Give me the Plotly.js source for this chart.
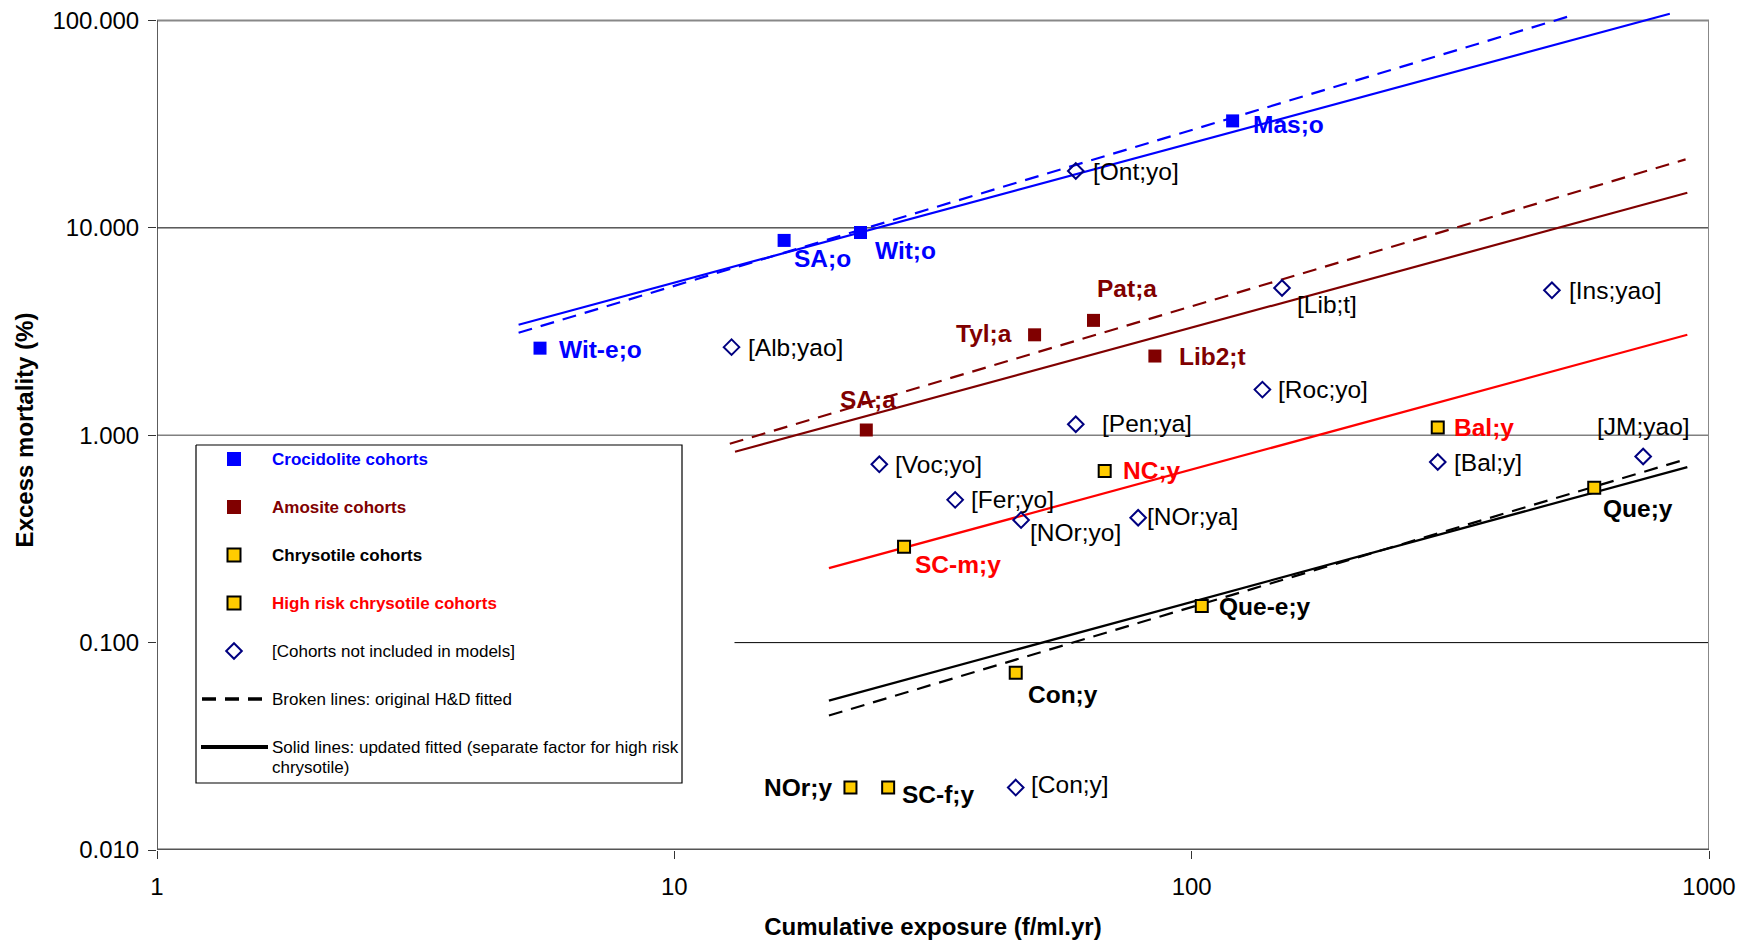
<!DOCTYPE html>
<html><head><meta charset="utf-8">
<script src="https://cdn.plot.ly/plotly-3.0.1.min.js"></script>
<style>html,body{margin:0;padding:0;background:#fff}#chart{width:1748px;height:944px}</style>
</head><body><div id="chart"></div>
<script>
// ---------------- DATA ----------------
const crocNames = ['Wit-e;o', 'SA;o', 'Wit;o', 'Mas;o'];
const crocX = [5.5, 16.3, 22.9, 120];
const crocY = [2.63, 8.7, 9.5, 32.8];

const amoNames = ['SA;a', 'Tyl;a', 'Pat;a', 'Lib2;t'];
const amoX = [23.5, 49.7, 64.6, 84.9];
const amoY = [1.06, 3.05, 3.58, 2.41];

const chrNames = ['Que-e;y', 'Con;y', 'Que;y', 'NOr;y', 'SC-f;y'];
const chrX = [104.6, 45.7, 600, 21.9, 25.9];
const chrY = [0.150, 0.0716, 0.558, 0.020, 0.020];

const hrNames = ['SC-m;y', 'NC;y', 'Bal;y'];
const hrX = [27.8, 67.9, 299];
const hrY = [0.29, 0.673, 1.09];

const exclNames = ['[Ont;yo]', '[Alb;yao]', '[Lib;t]', '[Ins;yao]', '[Roc;yo]', '[Pen;ya]', '[JM;yao]', '[Bal;y]', '[Voc;yo]', '[Fer;yo]', '[NOr;yo]', '[NOr;ya]', '[Con;y]'];
const exclX = [59.7, 12.9, 149.5, 497, 137, 59.7, 746, 299, 24.9, 34.9, 46.8, 78.8, 45.7];
const exclY = [18.8, 2.66, 5.13, 5.0, 1.66, 1.13, 0.79, 0.743, 0.724, 0.488, 0.39, 0.40, 0.020];

// fitted lines (end points of straight lines on log-log scale)
const fitCrocX = [5, 840];     const fitCrocY = [3.41, 107.7];     // updated
const fitCrocHDX = [5, 551];   const fitCrocHDY = [3.12, 106.9];   // original H&D
const fitAmoX = [13.1, 908];   const fitAmoY = [0.832, 14.77];
const fitAmoHDX = [12.8, 901]; const fitAmoHDY = [0.910, 21.4];
const fitHRX = [19.9, 908];    const fitHRY = [0.2286, 3.05];
const fitChrX = [19.9, 908];   const fitChrY = [0.0525, 0.702];
const fitChrHDX = [19.9, 902]; const fitChrHDY = [0.0445, 0.766];

const xTickVals = [1, 10, 100, 1000];
const xTickText = ['1', '10', '100', '1000'];
const yTickVals = [0.01, 0.1, 1, 10, 100];
const yTickText = ['0.010', '0.100', '1.000', '10.000', '100.000'];

const legendItems = [
  'Crocidolite cohorts', 'Amosite cohorts', 'Chrysotile cohorts', 'High risk chrysotile cohorts',
  '[Cohorts not included in models]', 'Broken lines: original H&D fitted',
  'Solid lines: updated fitted (separate factor for high risk', 'chrysotile)'
];

// ---------------- STYLE ----------------
const FONT = 'Liberation Sans, Arial, Helvetica, sans-serif';
const BLUE = '#0000FF', DRED = '#800000', RED = '#FF0000', YEL = '#FFCC00', NAVY = '#000080';
const DASH = '14px,9px';
const LABEL_SIZE = 24.5;

// label offsets (pixels): [dx, dy(down), anchor]
const labelOffsets = {
  'Wit-e;o': [17, 1, 'left'], 'SA;o': [8, 18, 'left'], 'Wit;o': [13, 18, 'left'], 'Mas;o': [18, 4, 'left'],
  'SA;a': [2, -31, 'center'], 'Tyl;a': [-21, -1, 'right'], 'Pat;a': [2, -32, 'left'], 'Lib2;t': [22, 0, 'left'],
  'Que-e;y': [15, 0, 'left'], 'Con;y': [10, 22, 'left'], 'Que;y': [7, 21, 'left'], 'NOr;y': [-16, 0, 'right'],
  'SC-f;y': [12, 7, 'left'], 'SC-m;y': [9, 18, 'left'], 'NC;y': [16, 0, 'left'], 'Bal;y': [14, 0, 'left'],
  '[Ont;yo]': [15, 0, 'left'], '[Alb;yao]': [14, 0, 'left'], '[Lib;t]': [13, 17, 'left'], '[Ins;yao]': [15, 0, 'left'],
  '[Roc;yo]': [14, 0, 'left'], '[Pen;ya]': [24, -1, 'left'], '[JM;yao]': [0, -30, 'center'], '[Bal;y]': [14, 0, 'left'],
  '[Voc;yo]': [14, 0, 'left'], '[Fer;yo]': [14, 0, 'left'], '[NOr;yo]': [7, 12, 'left'], '[NOr;ya]': [7, -1, 'left'],
  '[Con;y]': [13, -3, 'left']
};

const traces = [];
function fitLine(x, y, color, dashed) {
  return {type: 'scatter', mode: 'lines', x: x, y: y, xaxis: 'x', yaxis: 'y',
    line: {color: color, width: 2.2, dash: dashed ? DASH : 'solid'}, hoverinfo: 'skip', showlegend: false};
}
traces.push(fitLine(fitCrocX, fitCrocY, BLUE, false));
traces.push(fitLine(fitCrocHDX, fitCrocHDY, BLUE, true));
traces.push(fitLine(fitAmoX, fitAmoY, DRED, false));
traces.push(fitLine(fitAmoHDX, fitAmoHDY, DRED, true));
traces.push(fitLine(fitHRX, fitHRY, RED, false));
traces.push(fitLine(fitChrX, fitChrY, '#000000', false));
traces.push(fitLine(fitChrHDX, fitChrHDY, '#000000', true));

function pts(x, y, names, symbol, fill, lc, lw, size) {
  return {type: 'scatter', mode: 'markers', x: x, y: y, text: names, xaxis: 'x', yaxis: 'y',
    marker: {symbol: symbol, color: fill, size: size, opacity: 1, line: {color: lc, width: lw}},
    hoverinfo: 'text', showlegend: false};
}
traces.push(pts(exclX, exclY, exclNames, 'diamond-open', NAVY, NAVY, 2, 12));
traces.push(pts(crocX, crocY, crocNames, 'square', BLUE, BLUE, 0, 13));
traces.push(pts(amoX, amoY, amoNames, 'square', DRED, DRED, 0, 13));
traces.push(pts(chrX, chrY, chrNames, 'square', YEL, '#000000', 2, 12));
traces.push(pts(hrX, hrY, hrNames, 'square', YEL, '#000000', 2, 12));

// ---------- legend (drawn on pixel overlay axes) ----------
const LB = {l: 196, r: 682, t: 445, b: 783, mx: 234, tx: 270};
const legY = [459, 507, 555, 603, 651, 699, 747, 767];
traces.push({type: 'scatter', mode: 'lines', xaxis: 'x2', yaxis: 'y2',
  x: [LB.l, LB.r, LB.r, LB.l, LB.l], y: [LB.t, LB.t, LB.b, LB.b, LB.t],
  fill: 'toself', fillcolor: '#FFFFFF', line: {color: '#000000', width: 1.2}, hoverinfo: 'skip', showlegend: false});
traces.push({type: 'scatter', mode: 'markers', xaxis: 'x2', yaxis: 'y2',
  x: [LB.mx, LB.mx, LB.mx, LB.mx, LB.mx], y: legY.slice(0, 5),
  marker: {symbol: ['square', 'square', 'square', 'square', 'diamond-open'], opacity: 1,
    color: [BLUE, DRED, YEL, YEL, NAVY], size: [14, 14, 13, 13, 12],
    line: {color: [BLUE, DRED, '#000000', '#000000', NAVY], width: [0, 0, 2, 2, 2]}},
  hoverinfo: 'skip', showlegend: false});
traces.push({type: 'scatter', mode: 'lines', xaxis: 'x2', yaxis: 'y2', x: [202, 263], y: [legY[5], legY[5]],
  line: {color: '#000000', width: 3.5, dash: DASH}, hoverinfo: 'skip', showlegend: false});
traces.push({type: 'scatter', mode: 'lines', xaxis: 'x2', yaxis: 'y2', x: [201, 268], y: [legY[6], legY[6]],
  line: {color: '#000000', width: 4}, hoverinfo: 'skip', showlegend: false});

// ---------- annotations ----------
const annotations = [];
function addLabels(names, xs, ys, color, bold) {
  names.forEach(function (n, i) {
    const o = labelOffsets[n] || [14, 0, 'left'];
    annotations.push({x: Math.log10(xs[i]), y: Math.log10(ys[i]), xref: 'x', yref: 'y',
      text: bold ? '<b>' + n + '</b>' : n, showarrow: false, xanchor: o[2], yanchor: 'middle',
      xshift: o[0], yshift: -o[1], font: {family: FONT, size: LABEL_SIZE, color: color}});
  });
}
addLabels(crocNames, crocX, crocY, BLUE, true);
addLabels(amoNames, amoX, amoY, DRED, true);
addLabels(chrNames, chrX, chrY, '#000000', true);
addLabels(hrNames, hrX, hrY, RED, true);
addLabels(exclNames, exclX, exclY, '#000000', false);

const legColors = [BLUE, DRED, '#000000', RED, '#000000', '#000000', '#000000', '#000000'];
const legBold = [true, true, true, true, false, false, false, false];
legendItems.forEach(function (t, i) {
  annotations.push({x: LB.tx, y: legY[i], xref: 'x2', yref: 'y2', showarrow: false,
    text: legBold[i] ? '<b>' + t + '</b>' : t, xanchor: 'left', yanchor: 'middle',
    font: {family: FONT, size: 17, color: legColors[i]}});
});

// ---------- frame & gridlines ----------
const shapes = [
  {type: 'line', xref: 'x', yref: 'y', x0: 1, x1: 1000, y0: 10, y1: 10, line: {color: '#000000', width: 1}, layer: 'between'},
  {type: 'line', xref: 'x', yref: 'y', x0: 1, x1: 1000, y0: 1, y1: 1, line: {color: '#808080', width: 1.5}, layer: 'between'},
  {type: 'line', xref: 'x', yref: 'y', x0: 13.07, x1: 1000, y0: 0.1, y1: 0.1, line: {color: '#000000', width: 1}, layer: 'between'},
  {type: 'line', xref: 'x', yref: 'y', x0: 1, x1: 1000, y0: 100, y1: 100, line: {color: '#888888', width: 2}, layer: 'between'},
  {type: 'line', xref: 'x', yref: 'y', x0: 1000, x1: 1000, y0: 0.01, y1: 100, line: {color: '#888888', width: 2}, layer: 'between'},
  {type: 'line', xref: 'x', yref: 'y', x0: 1, x1: 1, y0: 0.01, y1: 100, line: {color: '#333333', width: 1.6}, layer: 'between'},
  {type: 'line', xref: 'x', yref: 'y', x0: 1, x1: 1000, y0: 0.01, y1: 0.01, line: {color: '#555555', width: 3}, layer: 'between'}
];

const layout = {
  width: 1748, height: 944,
  margin: {l: 157, r: 39, t: 10, b: 94, pad: 0},
  paper_bgcolor: '#FFFFFF', plot_bgcolor: '#FFFFFF',
  font: {family: FONT, color: '#000000'},
  showlegend: false,
  xaxis: {type: 'log', range: [0, 3], autorange: false, showgrid: false, zeroline: false, showline: false,
    tickvals: xTickVals, ticktext: xTickText, ticks: 'outside', ticklen: 8, tickwidth: 1.2, tickcolor: '#333333',
    ticklabelstandoff: 7, tickfont: {family: FONT, size: 24, color: '#000000'},
    title: {text: 'Cumulative exposure (f/ml.yr)', standoff: 19, font: {family: FONT, size: 24, weight: 700, color: '#000000'}}},
  yaxis: {type: 'log', range: [-2, 2.0506], autorange: false, showgrid: false, zeroline: false, showline: false,
    tickvals: yTickVals, ticktext: yTickText, ticks: 'outside', ticklen: 8, tickwidth: 1.2, tickcolor: '#333333',
    ticklabelstandoff: 4, tickfont: {family: FONT, size: 24, color: '#000000'},
    title: {text: 'Excess mortality (%)', standoff: 12, font: {family: FONT, size: 24, weight: 700, color: '#000000'}}},
  xaxis2: {overlaying: 'x', range: [157, 1709], autorange: false, visible: false, showgrid: false, zeroline: false},
  yaxis2: {overlaying: 'y', range: [850, 10], autorange: false, visible: false, showgrid: false, zeroline: false},
  shapes: shapes,
  annotations: annotations
};

Plotly.newPlot('chart', traces, layout, {displayModeBar: false, responsive: false});
</script>
</body></html>
